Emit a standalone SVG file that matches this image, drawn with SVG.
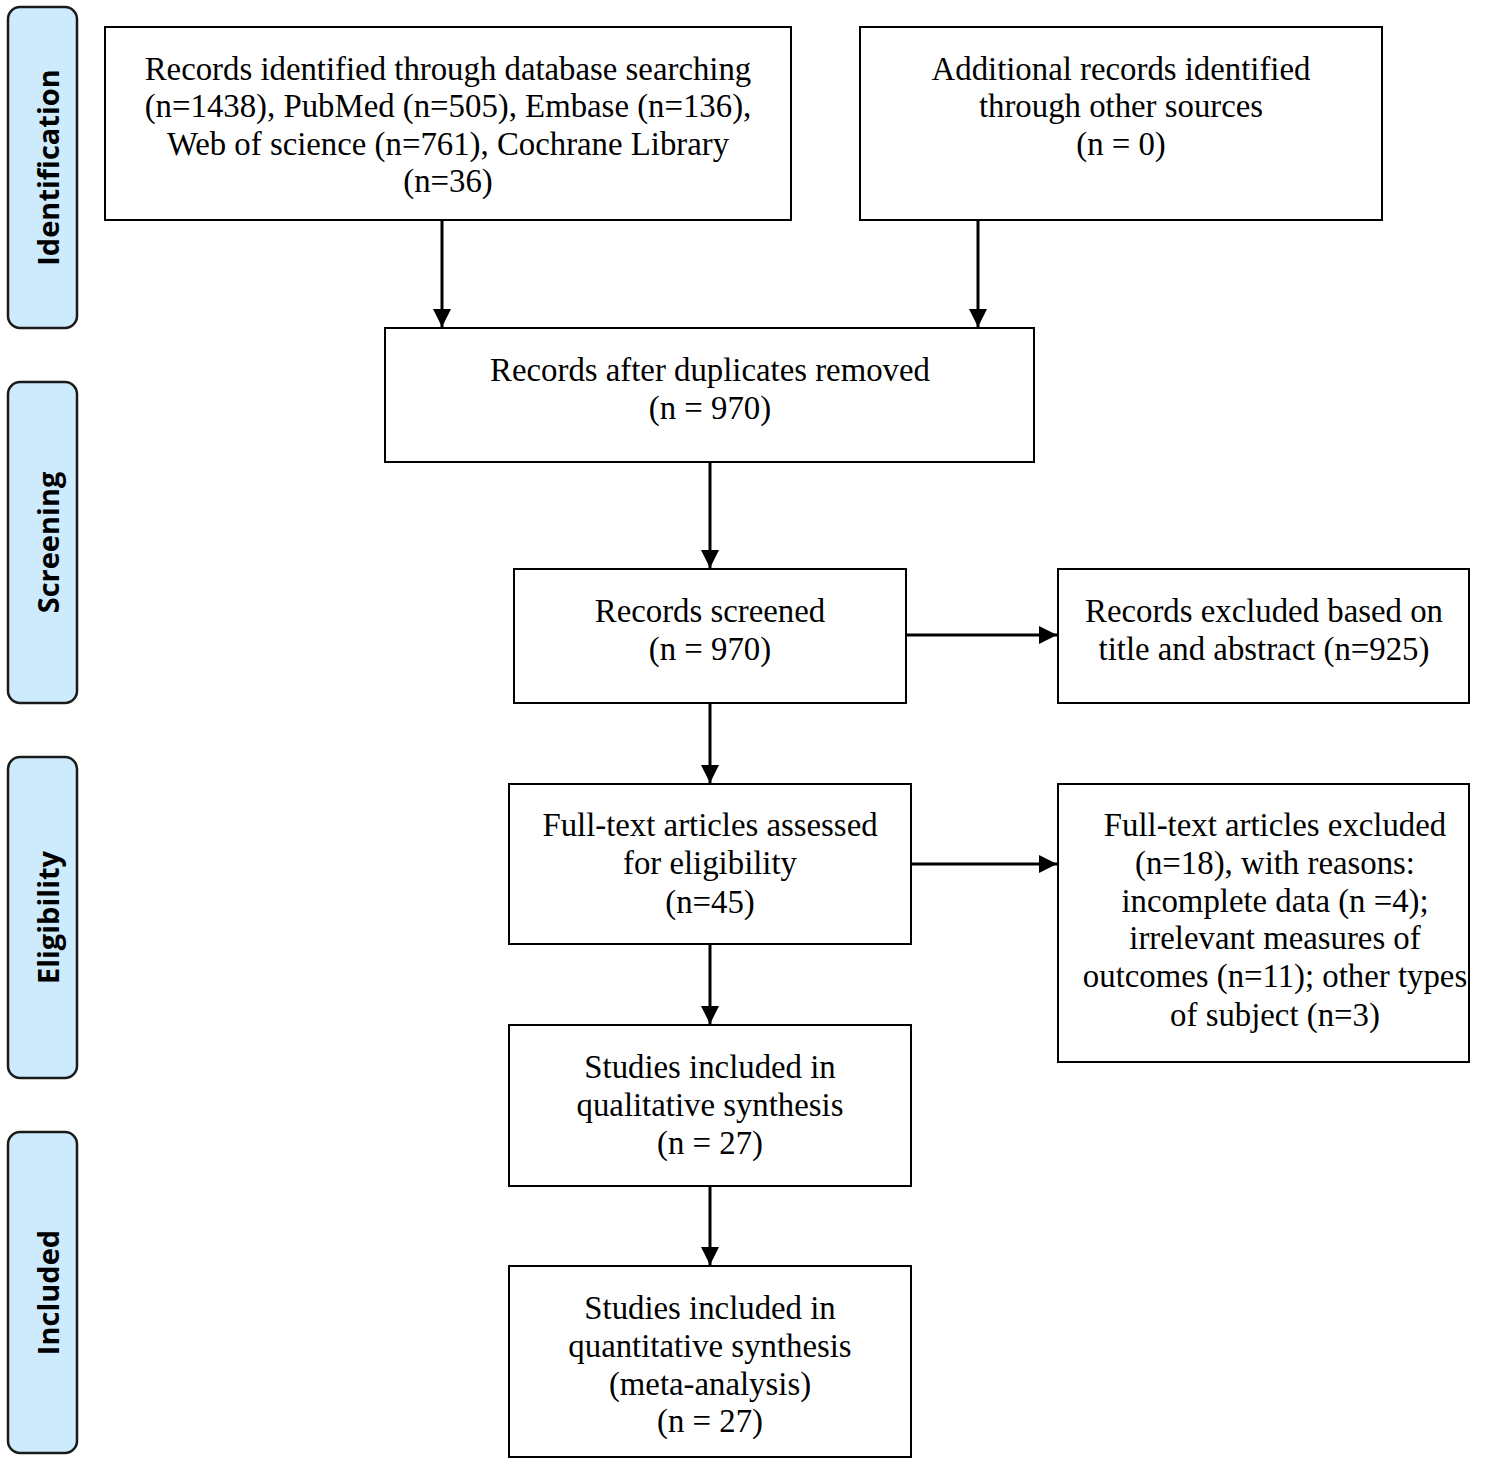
<svg xmlns="http://www.w3.org/2000/svg" width="1499" height="1466" viewBox="0 0 1499 1466">
<style>
.stage rect{fill:#cdebfd;stroke:#1a1a1a;stroke-width:2.5}
.stage text{font-family:"Open Sans","DejaVu Sans",sans-serif;font-weight:bold;font-size:29px;fill:#000}
.box rect{fill:#fff;stroke:#000;stroke-width:2}
.box text{font-family:"Liberation Serif","Times New Roman",serif;font-size:32.8px;fill:#000;text-anchor:middle}
#connectors line{stroke:#000;stroke-width:3}
</style>
<defs>
<marker id="ah" viewBox="0 0 10 10" refX="10" refY="5" markerWidth="6" markerHeight="6" markerUnits="strokeWidth" orient="auto">
<path d="M0,0 L10,5 L0,10 Z" fill="#000"/>
</marker>
</defs>
<rect width="1499" height="1466" fill="#fff"/>
<g id="stage-identification" class="stage"><rect x="8" y="7" width="69" height="321" rx="12"/><text transform="translate(47,167.5) rotate(-90)" text-anchor="middle" dominant-baseline="central">Identification</text></g>
<g id="stage-screening" class="stage"><rect x="8" y="382" width="69" height="321" rx="12"/><text transform="translate(47,542.5) rotate(-90)" text-anchor="middle" dominant-baseline="central">Screening</text></g>
<g id="stage-eligibility" class="stage"><rect x="8" y="757" width="69" height="321" rx="12"/><text transform="translate(47,917.5) rotate(-90)" text-anchor="middle" dominant-baseline="central">Eligibility</text></g>
<g id="stage-included" class="stage"><rect x="8" y="1132" width="69" height="321" rx="12"/><text transform="translate(47,1292.5) rotate(-90)" text-anchor="middle" dominant-baseline="central">Included</text></g>

<g id="n-database" class="box"><rect x="105" y="27" width="686" height="193"/>
<text x="448" y="80">Records identified through database searching</text>
<text x="448" y="117">(n=1438), PubMed (n=505), Embase (n=136),</text>
<text x="448" y="155">Web of science (n=761), Cochrane Library</text>
<text x="448" y="192">(n=36)</text></g>
<g id="n-other" class="box"><rect x="860" y="27" width="522" height="193"/>
<text x="1121" y="80">Additional records identified</text>
<text x="1121" y="117">through other sources</text>
<text x="1121" y="155">(n = 0)</text></g>
<g id="n-dedup" class="box"><rect x="385" y="328" width="649" height="134"/>
<text x="710" y="381">Records after duplicates removed</text>
<text x="710" y="419">(n = 970)</text></g>
<g id="n-screened" class="box"><rect x="514" y="569" width="392" height="134"/>
<text x="710" y="622">Records screened</text>
<text x="710" y="660">(n = 970)</text></g>
<g id="n-excluded1" class="box"><rect x="1058" y="569" width="411" height="134"/>
<text x="1264" y="622">Records excluded based on</text>
<text x="1264" y="660">title and abstract (n=925)</text></g>
<g id="n-fulltext" class="box"><rect x="509" y="784" width="402" height="160"/>
<text x="710" y="836">Full-text articles assessed</text>
<text x="710" y="874">for eligibility</text>
<text x="710" y="913">(n=45)</text></g>
<g id="n-excluded2" class="box"><rect x="1058" y="784" width="411" height="278"/>
<text x="1275" y="836">Full-text articles excluded</text>
<text x="1275" y="874">(n=18), with reasons:</text>
<text x="1275" y="912">incomplete data (n =4);</text>
<text x="1275" y="949">irrelevant measures of</text>
<text x="1275" y="987">outcomes (n=11); other types</text>
<text x="1275" y="1026">of subject (n=3)</text></g>
<g id="n-qualitative" class="box"><rect x="509" y="1025" width="402" height="161"/>
<text x="710" y="1078">Studies included in</text>
<text x="710" y="1116">qualitative synthesis</text>
<text x="710" y="1154">(n = 27)</text></g>
<g id="n-quantitative" class="box"><rect x="509" y="1266" width="402" height="191"/>
<text x="710" y="1319">Studies included in</text>
<text x="710" y="1357">quantitative synthesis</text>
<text x="710" y="1395">(meta-analysis)</text>
<text x="710" y="1432">(n = 27)</text></g>

<g id="connectors">
<line x1="442" y1="220" x2="442" y2="327" marker-end="url(#ah)"/>
<line x1="978" y1="220" x2="978" y2="327" marker-end="url(#ah)"/>
<line x1="710" y1="462" x2="710" y2="568" marker-end="url(#ah)"/>
<line x1="710" y1="703" x2="710" y2="783" marker-end="url(#ah)"/>
<line x1="906" y1="635" x2="1057" y2="635" marker-end="url(#ah)"/>
<line x1="911" y1="864" x2="1057" y2="864" marker-end="url(#ah)"/>
<line x1="710" y1="944" x2="710" y2="1024" marker-end="url(#ah)"/>
<line x1="710" y1="1186" x2="710" y2="1265" marker-end="url(#ah)"/>
</g>
</svg>
